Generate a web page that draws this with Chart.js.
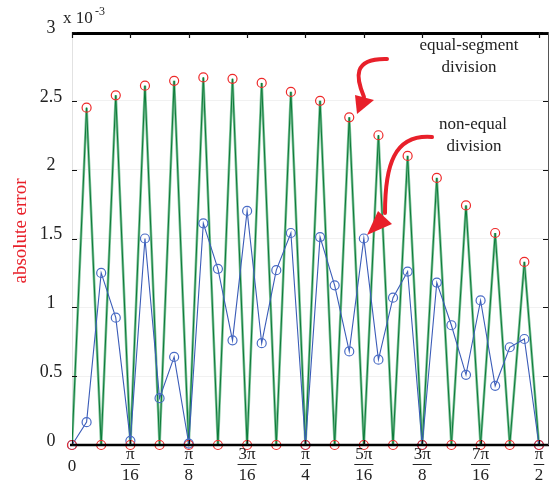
<!DOCTYPE html>
<html>
<head>
<meta charset="utf-8">
<script src="https://cdn.jsdelivr.net/npm/chart.js@4.4.1/dist/chart.umd.min.js"></script>
<style>
  html, body { margin: 0; padding: 0; background: #fff; }
  #err { display: block; }
</style>
</head>
<body>
<canvas id="err" width="555" height="485"></canvas>
<script>

// sample positions, in units of pi/64 (0 .. pi/2)
const samplePos = [0, 1, 2, 3, 4, 5, 6, 7, 8, 9, 10, 11, 12, 13, 14, 15, 16,
                   17, 18, 19, 20, 21, 22, 23, 24, 25, 26, 27, 28, 29, 30, 31, 32];

// absolute error (x 10^-3), equal-segment division
const equalErr = [0, 2.45, 0, 2.54, 0, 2.61, 0, 2.645, 0, 2.67, 0, 2.66, 0, 2.63, 0, 2.565, 0,
                  2.50, 0, 2.38, 0, 2.25, 0, 2.10, 0, 1.94, 0, 1.74, 0, 1.54, 0, 1.33, 0];

// absolute error (x 10^-3), non-equal division
const nonEqualErr = [0, 0.166, 1.25, 0.925, 0.03, 1.50, 0.34, 0.64, 0.01, 1.61, 1.28, 0.76, 1.70, 0.74, 1.27, 1.54, 0,
                     1.51, 1.16, 0.68, 1.50, 0.62, 1.07, 1.26, 0, 1.18, 0.87, 0.51, 1.05, 0.43, 0.71, 0.77, 0];

// x tick labels (fractions of pi)
const xTickPos = [0, 4, 8, 12, 16, 20, 24, 28, 32];
const xTickNum = ['0', 'π', 'π', '3π', 'π', '5π', '3π', '7π', 'π'];
const xTickDen = ['', '16', '8', '16', '4', '16', '8', '16', '2'];

// y tick labels
const yTickVals = [0, 0.5, 1, 1.5, 2, 2.5, 3];
const yTickText = ['0', '0.5', '1', '1.5', '2', '2.5', '3'];

const SERIF = '"Liberation Serif", "DejaVu Serif", serif';
const RED = '#e8202a';

function pts(vals) {
  return samplePos.map(function (x, i) { return { x: x, y: vals[i] }; });
}

//
// axes, labels and notes
//
const decor = {
  id: 'decor',
  afterDraw: function (chart) {
    const ctx = chart.ctx;
    const a = chart.chartArea;
    const xs = chart.scales.x;
    const ys = chart.scales.y;
    ctx.save();

    // frame
    ctx.strokeStyle = '#000';
    ctx.lineWidth = 3;
    ctx.beginPath();
    ctx.moveTo(a.left, a.top + 1.5); ctx.lineTo(a.right + 1, a.top + 1.5);
    ctx.stroke();
    ctx.lineWidth = 2.5;
    ctx.beginPath();
    ctx.moveTo(a.left - 2, a.bottom); ctx.lineTo(a.right + 1, a.bottom);
    ctx.stroke();
    ctx.lineWidth = 1;
    ctx.strokeStyle = '#555';
    ctx.beginPath();
    ctx.moveTo(a.right + 0.5, a.top); ctx.lineTo(a.right + 0.5, a.bottom);
    ctx.stroke();

    // inward ticks
    ctx.strokeStyle = '#111';
    ctx.lineWidth = 1.2;
    xTickPos.forEach(function (v) {
      const px = Math.round(xs.getPixelForValue(v)) + 0.5;
      ctx.beginPath();
      ctx.moveTo(px, a.top); ctx.lineTo(px, a.top + 6);
      ctx.moveTo(px, a.bottom); ctx.lineTo(px, a.bottom - 5);
      ctx.stroke();
    });
    yTickVals.forEach(function (v) {
      const py = Math.round(ys.getPixelForValue(v)) + 0.5;
      ctx.beginPath();
      ctx.moveTo(a.left, py); ctx.lineTo(a.left + 5, py);
      ctx.moveTo(a.right, py); ctx.lineTo(a.right - 5, py);
      ctx.stroke();
    });

    // y tick labels
    ctx.fillStyle = '#222';
    ctx.font = '18px ' + SERIF;
    ctx.textAlign = 'center';
    ctx.textBaseline = 'middle';
    yTickVals.forEach(function (v, i) {
      ctx.fillText(yTickText[i], 51, ys.getPixelForValue(v) - 4);
    });

    // x tick labels as fractions
    ctx.font = '17px ' + SERIF;
    xTickPos.forEach(function (v, i) {
      const px = xs.getPixelForValue(v);
      if (xTickDen[i] === '') {
        ctx.fillText(xTickNum[i], px, 467);
        return;
      }
      ctx.fillText(xTickNum[i], px, 455);
      ctx.fillText(xTickDen[i], px, 476);
      const w = Math.max(ctx.measureText(xTickNum[i]).width, ctx.measureText(xTickDen[i]).width) + 2;
      ctx.lineWidth = 1;
      ctx.strokeStyle = '#222';
      ctx.beginPath();
      ctx.moveTo(px - w / 2, 464.5); ctx.lineTo(px + w / 2, 464.5);
      ctx.stroke();
    });

    // exponent
    ctx.textAlign = 'left';
    ctx.font = '17px ' + SERIF;
    ctx.fillText('x 10', 63, 19);
    ctx.font = '12px ' + SERIF;
    ctx.fillText('-3', 95, 12);

    // y title
    ctx.save();
    ctx.translate(21, 231);
    ctx.rotate(-Math.PI / 2);
    ctx.fillStyle = RED;
    ctx.font = '19px ' + SERIF;
    ctx.textAlign = 'center';
    ctx.fillText('absolute error', 0, 0);
    ctx.restore();

    // notes
    ctx.fillStyle = '#222';
    ctx.font = '17px ' + SERIF;
    ctx.textAlign = 'center';
    ctx.fillText('equal-segment', 469, 46);
    ctx.fillText('division', 469, 68);
    ctx.fillText('non-equal', 473, 125);
    ctx.fillText('division', 474, 147);

    // arrows
    ctx.strokeStyle = RED;
    ctx.fillStyle = RED;
    ctx.lineWidth = 4;
    ctx.lineCap = 'round';
    ctx.beginPath();
    ctx.moveTo(387, 59);
    ctx.bezierCurveTo(352, 58, 356, 78, 364, 97);
    ctx.stroke();
    ctx.beginPath();
    ctx.moveTo(355, 95); ctx.lineTo(374, 100); ctx.lineTo(357, 114);
    ctx.closePath(); ctx.fill();

    ctx.beginPath();
    ctx.moveTo(432, 137);
    ctx.bezierCurveTo(394, 134, 385, 165, 385, 213);
    ctx.stroke();
    ctx.beginPath();
    ctx.moveTo(378, 211); ctx.lineTo(392, 224); ctx.lineTo(367, 235);
    ctx.closePath(); ctx.fill();

    ctx.restore();
  }
};

//
// Chart
//
const ctx = document.getElementById('err').getContext('2d');
const chart = new Chart(ctx, {
  type: 'line',
  data: {
    datasets: [{
      // equal-segment nodes
      data: pts(equalErr),
      showLine: false,
      pointRadius: 4.5,
      pointBorderColor: '#ee2a2a',
      pointBackgroundColor: 'rgba(0,0,0,0)',
      pointBorderWidth: 1.2,
      clip: false,
      order: 0
    }, {
      // non-equal division
      data: pts(nonEqualErr),
      borderColor: '#3b5cb8',
      borderWidth: 1.1,
      pointRadius: 4.5,
      pointBorderColor: '#4a6cc6',
      pointBackgroundColor: 'rgba(0,0,0,0)',
      pointBorderWidth: 1.2,
      tension: 0,
      clip: false,
      order: 1
    }, {
      // equal-segment error curve (dark strand)
      data: pts(equalErr),
      borderColor: '#0b7a38',
      borderWidth: 1,
      pointRadius: 0,
      tension: 0,
      order: 2
    }, {
      // equal-segment error curve (light strand)
      data: pts(equalErr),
      borderColor: '#80c49b',
      borderWidth: 2.6,
      pointRadius: 0,
      tension: 0,
      order: 3
    }]
  },
  options: {
    responsive: false,
    animation: false,
    devicePixelRatio: 1,
    layout: { padding: { top: 32, right: 7, left: 0, bottom: 0 } },
    plugins: {
      legend: { display: false },
      tooltip: { enabled: false }
    },
    scales: {
      x: {
        type: 'linear',
        min: 0,
        max: 32.62,
        ticks: { display: false },
        grid: { display: false },
        border: { display: false },
        afterFit: function (s) { s.height = 40; }
      },
      y: {
        min: 0,
        max: 3,
        ticks: { display: false, stepSize: 0.5 },
        grid: { color: '#f1f1f1', drawTicks: false },
        border: { color: '#e2e2e2' },
        afterFit: function (s) { s.width = 72; }
      }
    }
  },
  plugins: [decor]
});

</script>
</body>
</html>
